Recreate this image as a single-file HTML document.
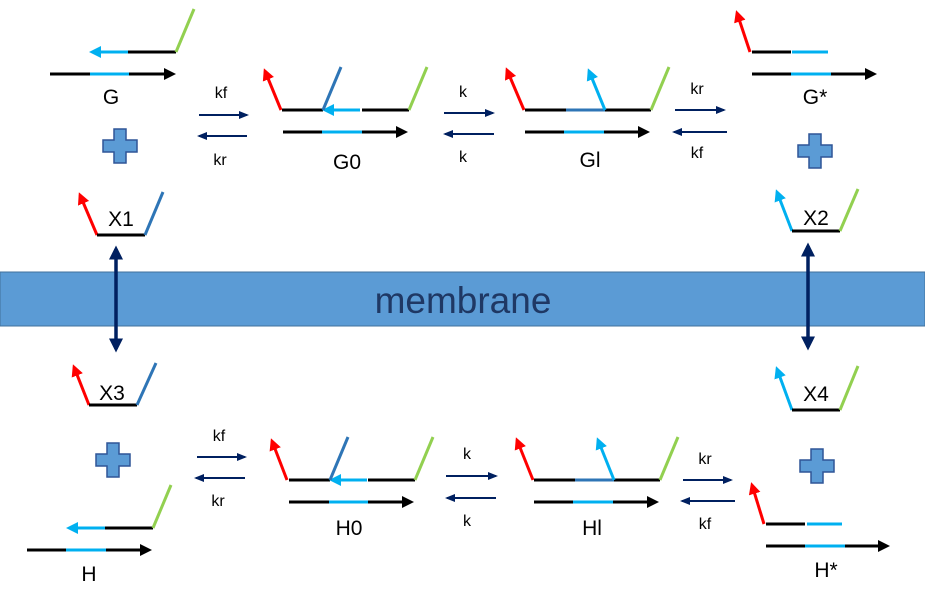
<!DOCTYPE html>
<html><head><meta charset="utf-8"><style>html,body{margin:0;padding:0;background:#fff}svg{display:block}</style></head>
<body>
<svg width="925" height="607" viewBox="0 0 925 607" xmlns="http://www.w3.org/2000/svg" font-family="Liberation Sans, sans-serif">
<defs>
<marker id="ak" markerWidth="4" markerHeight="4" refX="3" refY="2" orient="auto" markerUnits="strokeWidth"><path d="M0,0L4,2L0,4z" fill="#000"/></marker>
<marker id="ab" markerWidth="4" markerHeight="4" refX="3" refY="2" orient="auto" markerUnits="strokeWidth"><path d="M0,0L4,2L0,4z" fill="#00b0f0"/></marker>
<marker id="ar" markerWidth="4" markerHeight="4" refX="3" refY="2" orient="auto" markerUnits="strokeWidth"><path d="M0,0L4,2L0,4z" fill="#ff0000"/></marker>
<marker id="an" markerWidth="5" markerHeight="4" refX="4" refY="2" orient="auto" markerUnits="strokeWidth"><path d="M0,0L5,2L0,4z" fill="#002060"/></marker>
<marker id="an2" markerWidth="4" markerHeight="4" refX="3" refY="2" orient="auto-start-reverse" markerUnits="strokeWidth"><path d="M0,0L4,2L0,4z" fill="#002060"/></marker>
<symbol id="plus" viewBox="0 0 36 36"><path d="M12,1H24V12H35V24H24V35H12V24H1V12H12z" fill="#5b9bd5" stroke="#2f5597" stroke-width="1.5"/></symbol>
</defs>
<g stroke-width="3" fill="none">
<line x1="128" y1="52" x2="92" y2="52" stroke="#00b0f0" marker-end="url(#ab)"/>
<line x1="128" y1="52" x2="176" y2="52" stroke="#000"/>
<line x1="176" y1="52" x2="194" y2="9" stroke="#92d050"/>
<line x1="50" y1="74" x2="90" y2="74" stroke="#000"/>
<line x1="90" y1="74" x2="129" y2="74" stroke="#00b0f0"/>
<line x1="129" y1="74" x2="173" y2="74" stroke="#000" marker-end="url(#ak)"/>
<line x1="97" y1="235" x2="80" y2="195" stroke="#ff0000" marker-end="url(#ar)"/>
<line x1="97" y1="235" x2="145" y2="235" stroke="#000"/>
<line x1="145" y1="235" x2="163" y2="192" stroke="#2e75b6"/>
<line x1="281" y1="110" x2="265" y2="71" stroke="#ff0000" marker-end="url(#ar)"/>
<line x1="282" y1="110" x2="323" y2="110" stroke="#000"/>
<line x1="360" y1="110" x2="325" y2="110" stroke="#00b0f0" marker-end="url(#ab)"/>
<line x1="362" y1="110" x2="409" y2="110" stroke="#000"/>
<line x1="409" y1="110" x2="427" y2="67" stroke="#92d050"/>
<line x1="323" y1="110" x2="341" y2="67" stroke="#2e75b6"/>
<line x1="283" y1="132" x2="322" y2="132" stroke="#000"/>
<line x1="322" y1="132" x2="362" y2="132" stroke="#00b0f0"/>
<line x1="362" y1="132" x2="405" y2="132" stroke="#000" marker-end="url(#ak)"/>
<line x1="524" y1="110" x2="507" y2="70" stroke="#ff0000" marker-end="url(#ar)"/>
<line x1="525" y1="110" x2="566" y2="110" stroke="#000"/>
<line x1="566" y1="110" x2="605" y2="110" stroke="#2e75b6"/>
<line x1="605" y1="110" x2="651" y2="110" stroke="#000"/>
<line x1="605" y1="110" x2="589" y2="71" stroke="#00b0f0" marker-end="url(#ab)"/>
<line x1="651" y1="110" x2="669" y2="67" stroke="#92d050"/>
<line x1="525" y1="132" x2="564" y2="132" stroke="#000"/>
<line x1="564" y1="132" x2="604" y2="132" stroke="#00b0f0"/>
<line x1="604" y1="132" x2="647" y2="132" stroke="#000" marker-end="url(#ak)"/>
<line x1="750" y1="52" x2="737" y2="13" stroke="#ff0000" marker-end="url(#ar)"/>
<line x1="752" y1="52" x2="791" y2="52" stroke="#000"/>
<line x1="792" y1="52" x2="828" y2="52" stroke="#00b0f0"/>
<line x1="752" y1="74" x2="791" y2="74" stroke="#000"/>
<line x1="791" y1="74" x2="831" y2="74" stroke="#00b0f0"/>
<line x1="831" y1="74" x2="874" y2="74" stroke="#000" marker-end="url(#ak)"/>
<line x1="792" y1="231" x2="777" y2="192" stroke="#00b0f0" marker-end="url(#ab)"/>
<line x1="792" y1="231" x2="840" y2="231" stroke="#000"/>
<line x1="840" y1="231" x2="858" y2="189" stroke="#92d050"/>
<line x1="89" y1="405" x2="74" y2="367" stroke="#ff0000" marker-end="url(#ar)"/>
<line x1="89" y1="405" x2="137" y2="405" stroke="#000"/>
<line x1="137" y1="405" x2="156" y2="363" stroke="#2e75b6"/>
<line x1="105" y1="528" x2="69" y2="528" stroke="#00b0f0" marker-end="url(#ab)"/>
<line x1="105" y1="528" x2="153" y2="528" stroke="#000"/>
<line x1="153" y1="528" x2="171" y2="485" stroke="#92d050"/>
<line x1="27" y1="550" x2="66" y2="550" stroke="#000"/>
<line x1="66" y1="550" x2="106" y2="550" stroke="#00b0f0"/>
<line x1="106" y1="550" x2="149" y2="550" stroke="#000" marker-end="url(#ak)"/>
<line x1="287" y1="480" x2="272" y2="441" stroke="#ff0000" marker-end="url(#ar)"/>
<line x1="289" y1="480" x2="330" y2="480" stroke="#000"/>
<line x1="367" y1="480" x2="332" y2="480" stroke="#00b0f0" marker-end="url(#ab)"/>
<line x1="368" y1="480" x2="415" y2="480" stroke="#000"/>
<line x1="330" y1="480" x2="348" y2="437" stroke="#2e75b6"/>
<line x1="415" y1="480" x2="433" y2="437" stroke="#92d050"/>
<line x1="289" y1="502" x2="329" y2="502" stroke="#000"/>
<line x1="329" y1="502" x2="368" y2="502" stroke="#00b0f0"/>
<line x1="368" y1="502" x2="411" y2="502" stroke="#000" marker-end="url(#ak)"/>
<line x1="533" y1="480" x2="517" y2="440" stroke="#ff0000" marker-end="url(#ar)"/>
<line x1="534" y1="480" x2="575" y2="480" stroke="#000"/>
<line x1="575" y1="480" x2="614" y2="480" stroke="#2e75b6"/>
<line x1="614" y1="480" x2="660" y2="480" stroke="#000"/>
<line x1="614" y1="480" x2="598" y2="440" stroke="#00b0f0" marker-end="url(#ab)"/>
<line x1="660" y1="480" x2="678" y2="437" stroke="#92d050"/>
<line x1="534" y1="502" x2="573" y2="502" stroke="#000"/>
<line x1="573" y1="502" x2="613" y2="502" stroke="#00b0f0"/>
<line x1="613" y1="502" x2="656" y2="502" stroke="#000" marker-end="url(#ak)"/>
<line x1="792" y1="410" x2="777" y2="369" stroke="#00b0f0" marker-end="url(#ab)"/>
<line x1="792" y1="410" x2="840" y2="410" stroke="#000"/>
<line x1="840" y1="410" x2="858" y2="366" stroke="#92d050"/>
<line x1="764" y1="524" x2="752" y2="485" stroke="#ff0000" marker-end="url(#ar)"/>
<line x1="766" y1="524" x2="805" y2="524" stroke="#000"/>
<line x1="807" y1="524" x2="842" y2="524" stroke="#00b0f0"/>
<line x1="766" y1="546" x2="805" y2="546" stroke="#000"/>
<line x1="805" y1="546" x2="845" y2="546" stroke="#00b0f0"/>
<line x1="845" y1="546" x2="887" y2="546" stroke="#000" marker-end="url(#ak)"/>
</g>
<g stroke="#002060" stroke-width="2" fill="none">
<line x1="199" y1="115" x2="247" y2="115" marker-end="url(#an)"/>
<line x1="247" y1="136" x2="199" y2="136" marker-end="url(#an)"/>
<line x1="444" y1="113" x2="493" y2="113" marker-end="url(#an)"/>
<line x1="494" y1="134" x2="445" y2="134" marker-end="url(#an)"/>
<line x1="675" y1="110" x2="724" y2="110" marker-end="url(#an)"/>
<line x1="727" y1="132" x2="674" y2="132" marker-end="url(#an)"/>
<line x1="197" y1="457" x2="245" y2="457" marker-end="url(#an)"/>
<line x1="245" y1="478" x2="196" y2="478" marker-end="url(#an)"/>
<line x1="446" y1="476" x2="496" y2="476" marker-end="url(#an)"/>
<line x1="496" y1="498" x2="447" y2="498" marker-end="url(#an)"/>
<line x1="683" y1="480" x2="731" y2="480" marker-end="url(#an)"/>
<line x1="735" y1="501" x2="682" y2="501" marker-end="url(#an)"/>
</g>
<rect x="0" y="272" width="925" height="54" fill="#5b9bd5" stroke="#41719c" stroke-width="1"/>
<text x="463" y="313" font-size="37" fill="#1f3864" text-anchor="middle">membrane</text>
<g stroke="#002060" stroke-width="3.5">
<line x1="116" y1="249" x2="116" y2="349" marker-end="url(#an2)" marker-start="url(#an2)"/>
<line x1="808" y1="246" x2="808" y2="347" marker-end="url(#an2)" marker-start="url(#an2)"/>
</g>
<use href="#plus" x="102" y="128" width="36" height="36"/>
<use href="#plus" x="797" y="133" width="36" height="36"/>
<use href="#plus" x="95" y="442" width="36" height="36"/>
<use href="#plus" x="799" y="448" width="36" height="36"/>
<g font-size="21" fill="#000" text-anchor="middle">
<text x="111" y="104">G</text>
<text x="121" y="226">X1</text>
<text x="347" y="169">G0</text>
<text x="590" y="167">Gl</text>
<text x="815" y="104">G*</text>
<text x="816" y="225">X2</text>
<text x="112" y="400">X3</text>
<text x="89" y="581">H</text>
<text x="349" y="535">H0</text>
<text x="592" y="535">Hl</text>
<text x="816" y="401">X4</text>
<text x="826" y="577">H*</text>
</g>
<g font-size="16" fill="#000" text-anchor="middle">
<text x="221" y="98">kf</text>
<text x="220" y="165">kr</text>
<text x="463" y="97">k</text>
<text x="463" y="162">k</text>
<text x="697" y="94">kr</text>
<text x="697" y="158">kf</text>
<text x="219" y="441">kf</text>
<text x="218" y="506">kr</text>
<text x="467" y="459">k</text>
<text x="467" y="526">k</text>
<text x="705" y="464">kr</text>
<text x="705" y="529">kf</text>
</g>
</svg>
</body></html>
